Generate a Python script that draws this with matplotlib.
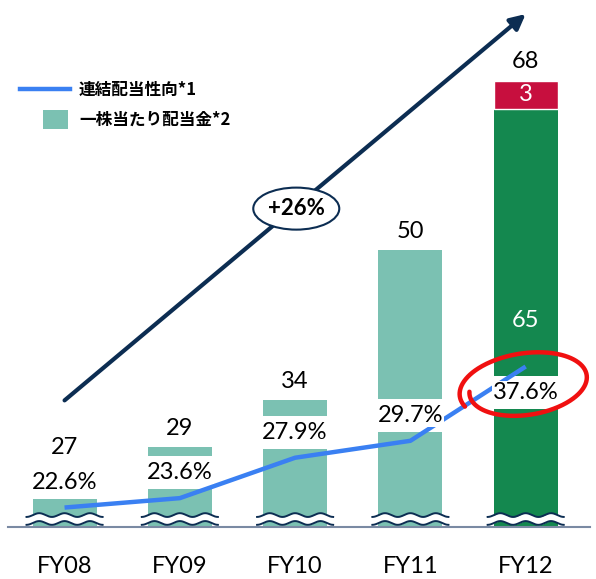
import numpy as np
import matplotlib
matplotlib.use("Agg")
import matplotlib.pyplot as plt
from matplotlib.patches import Ellipse, Rectangle
from matplotlib.lines import Line2D

plt.rcParams['font.family'] = ['Lato', 'Noto Sans CJK JP', 'DejaVu Sans']

# ---------------- data ----------------
years = ["FY08", "FY09", "FY10", "FY11", "FY12"]
dividend = [27, 29, 34, 50, 65]          # regular dividend per share
extra_fy12 = 3                           # extra part in FY12 (red)
dividend_total = [27, 29, 34, 50, 68]
payout_ratio = [22.6, 23.6, 27.9, 29.7, 37.6]
growth_label = "+26%"
legend_line = "連結配当性向*1"
legend_bar = "一株当たり配当金*2"

# ---------------- style ----------------
TEAL = "#7bc1b2"
GREEN = "#14884f"
RED = "#c70f3e"
BLUE = "#3a80f2"
NAVY = "#0c2d52"

W, H = 596, 579
fig = plt.figure(figsize=(W / 100, H / 100), dpi=100)
ax = fig.add_axes([0, 52 / H, 1, 527 / H])
ylo = 20.53
ax.set_ylim(ylo, ylo + 527 / 9.4)
ax.set_xlim(-0.56, 4.61)
for s in ax.spines.values():
    s.set_visible(False)
ax.set_yticks([])
x = np.arange(len(years))
ax.set_xticks(x, years, fontsize=17)
ax.tick_params(axis='x', length=0, pad=21)

bw = 0.555
colors = [TEAL, TEAL, TEAL, TEAL, GREEN]
ax.bar(x, dividend, width=bw, color=colors, zorder=2)
ax.bar(x[4], extra_fy12, bottom=dividend[4], width=bw, color=RED, zorder=2,
       edgecolor='white', linewidth=1)

# label positions for percentages (above line, last one below)
pct_y = [r + 2.7 for r in payout_ratio[:4]] + [payout_ratio[4] - 2.8]
gap_h = 3.5
for xi, py in zip(x, pct_y):
    ax.add_patch(Rectangle((xi - bw / 2 - 0.01, py - gap_h / 2), bw + 0.02, gap_h,
                           facecolor='white', edgecolor='none', zorder=3))

# wavy break marks
for xi in x:
    xs = np.linspace(xi - 0.33, xi + 0.33, 200)
    ph = 2 * np.pi * 3 * (xs - xs[0]) / (xs[-1] - xs[0])
    up = 21.8 - 0.2 * np.cos(ph)
    lo = 20.96 - 0.2 * np.cos(ph)
    ax.fill_between(xs, lo, up, color='white', zorder=3.4, linewidth=0)
    ax.plot(xs, up, color=NAVY, lw=1.4, zorder=3.5)
    ax.plot(xs, lo, color=NAVY, lw=1.4, zorder=3.5)

# baseline
ax.plot([-0.49, 4.56], [ylo + 0.05, ylo + 0.05], color='#7a8aa3', lw=1.5,
        zorder=3.6, clip_on=False)

# payout line
ax.plot(x, payout_ratio, color=BLUE, lw=3.2, zorder=4, solid_capstyle='butt')

# percent labels
for xi, py, r in zip(x, pct_y, payout_ratio):
    ax.text(xi, py, f"{r:.1f}%", ha='center', va='center', fontsize=17,
            color='black', zorder=5,
            bbox=dict(boxstyle='square,pad=0.05', facecolor='white', edgecolor='none'))

# value labels on top
for xi, v in zip(x, dividend_total):
    ax.text(xi, v + 2.0, f"{v}", ha='center', va='center', fontsize=17,
            color='black', zorder=5)

# inner labels FY12
ax.text(x[4], pct_y[4] + 7.75, f"{dividend[4]}", ha='center', va='center',
        fontsize=17, color='white', zorder=5)
ax.text(x[4], dividend[4] + extra_fy12 / 2, f"{extra_fy12}", ha='center',
        va='center', fontsize=17, color='white', zorder=5)

# growth arrow
ax.annotate('', xy=(4.0, 75.1), xytext=(0.0, 34.0),
            arrowprops=dict(arrowstyle='-|>,head_length=0.9,head_width=0.45',
                            lw=3, color=NAVY, shrinkA=0, shrinkB=0),
            zorder=6)
ax.add_patch(Ellipse((2.01, 54.4), 0.746, 4.47, facecolor='white',
                     edgecolor=NAVY, lw=1.5, zorder=7))
ax.text(2.01, 54.4, growth_label, ha='center', va='center', fontsize=16,
        fontweight='bold', zorder=8)

# hand-drawn red ellipse around last ratio
fig.canvas.draw()
cx, cy = ax.transData.transform((4.0, 35.6))
t = np.linspace(0, 1, 400)
theta = np.deg2rad(175) + t * np.deg2rad(385)
rf = 0.86 + 0.16 * t
a, b = 66, 33
phi = np.deg2rad(9)
ex = a * rf * np.cos(theta)
ey = b * rf * np.sin(theta)
px = cx + ex * np.cos(phi) - ey * np.sin(phi)
py_ = cy + ex * np.sin(phi) + ey * np.cos(phi)
fig.add_artist(Line2D(px, py_, transform=None, color='#f01010', lw=3.2,
                      zorder=9, solid_capstyle='round'))

# legend (manual)
def fx(p):
    return p / W

def fy(p):
    return 1 - p / H

fig.add_artist(Line2D([fx(20), fx(70)], [fy(89), fy(89)], color=BLUE, lw=3.2,
                      transform=fig.transFigure))
fig.add_artist(Rectangle((fx(43), fy(129)), fx(68) - fx(43), fy(110) - fy(129),
                         facecolor=TEAL, edgecolor='none', transform=fig.transFigure))
fig.text(fx(79), fy(90), legend_line, ha='left', va='center', fontsize=12,
         fontweight='bold', family=['Noto Sans CJK JP', 'DejaVu Sans'])
fig.text(fx(79), fy(120), legend_bar, ha='left', va='center', fontsize=12,
         fontweight='bold', family=['Noto Sans CJK JP', 'DejaVu Sans'])

fig.savefig("out.png", dpi=100)
